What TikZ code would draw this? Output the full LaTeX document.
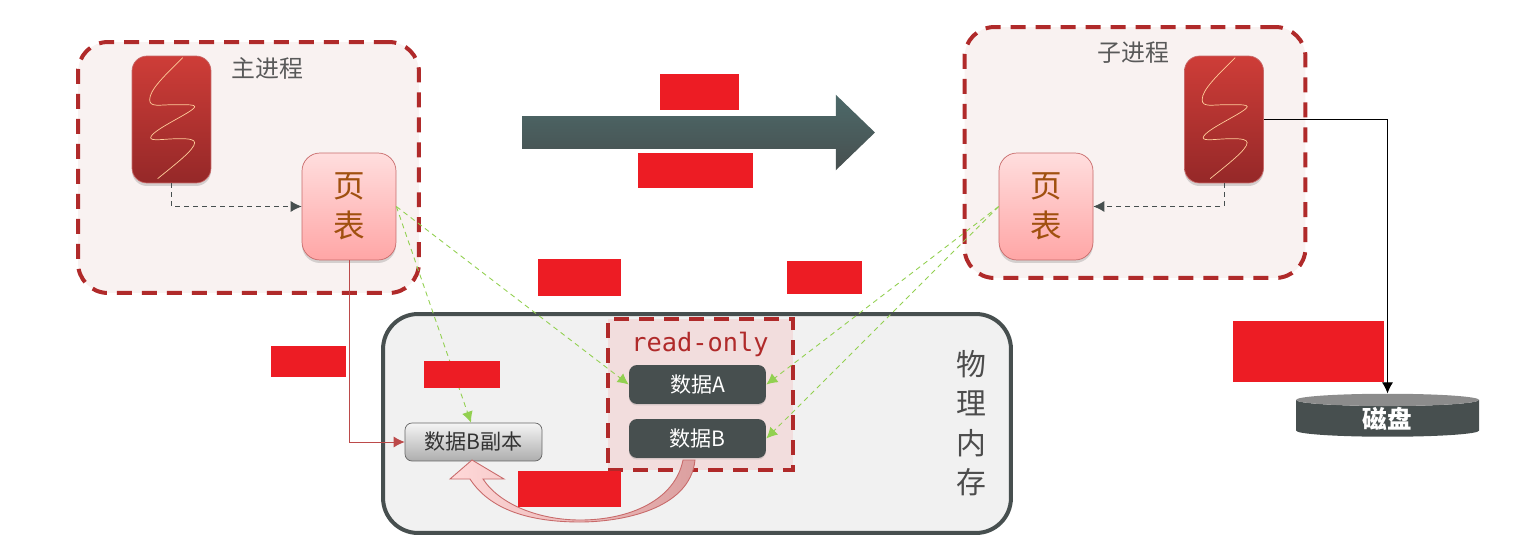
\documentclass[tikz,border=0pt]{standalone}
\usepackage{fontspec}
\setmainfont{Noto Sans CJK SC}
\newfontfamily\rofont{DejaVu Sans Mono}
\usetikzlibrary{shapes.geometric,shapes.arrows,arrows.meta,shadows}
\definecolor{brick}{HTML}{B02A2A}
\definecolor{slate}{HTML}{474F4F}
\definecolor{leaf}{HTML}{92D050}
\definecolor{maskred}{HTML}{ED1C24}
\definecolor{procfill}{HTML}{F9F2F1}
\definecolor{threadtop}{HTML}{CE3D38}
\definecolor{threadlow}{HTML}{952828}
\definecolor{tabletext}{HTML}{A0500F}
\tikzset
{
    procbox/.style = {rectangle, draw=brick, fill=procfill, line width=0.08cm, rounded corners=0.6cm, dash pattern=on 0.3cm off 0.2cm, minimum width=6.82cm, minimum height=5.02cm},
    thread/.style = {rectangle, rounded corners=0.3cm, draw=brick!70!white, top color=threadtop, bottom color=threadlow, minimum width=1.58cm, minimum height=2.54cm, drop shadow={shadow xshift=0cm, shadow yshift=-0.06cm, opacity=0.3}},
    pagetable/.style = {rectangle, rounded corners=0.36cm, draw=brick!70!white, top color=red!13!white, bottom color=red!35!white, minimum width=1.88cm, minimum height=2.14cm, align=center, text=tabletext, font=\fontsize{18}{23}\selectfont, inner sep=0pt, drop shadow={shadow xshift=0cm, shadow yshift=-0.06cm, opacity=0.3}},
    datanode/.style = {rectangle, rounded corners=0.16cm, fill=slate, text=white, minimum width=2.74cm, minimum height=0.78cm, inner sep=0pt, font=\fontsize{12}{14}\selectfont, drop shadow={shadow xshift=0cm, shadow yshift=-0.03cm, opacity=0.25}},
    copynode/.style = {rectangle, rounded corners=0.14cm, draw=black!60!white, top color=black!4!white, bottom color=black!32!white, minimum width=2.74cm, minimum height=0.76cm, inner sep=0pt, font=\fontsize{12}{14}\selectfont, text=black!80!white},
    label/.style = {text=black!65!white, font=\fontsize{13.6}{16}\selectfont, inner sep=0pt},
    mask/.style = {rectangle, fill=maskred, inner sep=0pt, outer sep=0pt},
    wave/.style = {draw=orange!40!white, line width=0.4pt},
    linktip/.style = {-{Latex[length=0.22cm,width=0.22cm]}},
    maplink/.style = {draw=leaf, linktip, line width=0.5pt, dash pattern=on 0.1cm off 0.08cm},
    ptrlink/.style = {draw=slate, linktip, line width=0.5pt, dash pattern=on 0.1cm off 0.08cm}
}
% one wiggle, placed from the corner of a thread
\newcommand{\threadwave}[1]{
  \draw[wave, shift={(#1)}] (51,2) .. controls (33,20) and (18,34) .. (18,44)
    .. controls (18,52) and (28,49) .. (43,49) .. controls (58,49) and (63,49) .. (63,51)
    .. controls (63,56) and (20,74) .. (19,82) .. controls (19,86) and (33,83) .. (48,83)
    .. controls (58,83) and (63,84) .. (63,87) .. controls (63,94) and (43,109) .. (26,123);
}

\begin{document}
\begin{tikzpicture}[x=0.02cm, y=-0.02cm]
\useasboundingbox (0,0) rectangle (1514,547);

% the two processes
\node[procbox] (mainproc) at (248.5,167.5) {};
\node[procbox] (childproc) at (1135,152.5) {};
\node[label, anchor=west] (mainlabel) at (231,68) {主进程};
\node[label, anchor=west] (childlabel) at (1097,53) {子进程};
\node[thread] (mainthread) at (171.5,119.5) {};
\node[thread] (childthread) at (1224,119.5) {};
\threadwave{mainthread.north west}
\threadwave{childthread.north west}
\node[pagetable] (maintable) at (349,206.5) {页\\表};
\node[pagetable] (childtable) at (1046,206.5) {页\\表};

% arrow between them
\node[single arrow, single arrow head extend=0.43cm, single arrow tip angle=88, minimum height=7.06cm, inner xsep=0pt, inner ysep=0.32cm, top color=slate!80!teal!90!white, bottom color=slate] (forkarrow) at (690,132.5) {};

% physical memory
\node[rectangle, draw=slate, fill=black!5.5!white, line width=0.08cm, rounded corners=0.7cm, minimum width=12.56cm, minimum height=4.38cm] (memory) at (697,423.5) {};
\node[align=center, text=black!70!white, inner sep=0pt, font=\fontsize{17}{22.5}\selectfont] (memlabel) at (971,423) {物\\理\\内\\存};
\node[rectangle, draw=brick, fill=brick!16!white, line width=0.08cm, dash pattern=on 0.3cm off 0.2cm, minimum width=3.7cm, minimum height=3.02cm] (readonly) at (700.5,394.5) {};
\node[text=brick, inner sep=0pt, font=\rofont\fontsize{14.4}{16}\selectfont] (rolabel) at (700,344) {read-only};
\node[datanode] (dataA) at (697.5,384.5) {数据A};
\node[datanode] (dataB) at (697.5,438.5) {数据B};
\node[copynode] (dataC) at (473.5,442) {数据B副本};

% copy arrow
\draw[draw=brick!70!white, line width=0.5pt, left color=red!15!white, right color=brick!45!white]
  (683,460) -- (695,460) .. controls (690,510) and (620,522) .. (580,522)
  .. controls (530,522) and (490,510) .. (470,479) -- (450,479) -- (472,460) -- (504,479) -- (483,479)
  .. controls (500,505) and (540,520) .. (580,520) .. controls (630,520) and (675,500) .. (683,460) -- cycle;

% disk
\node[cylinder, shape border rotate=90, aspect=0.25, cylinder uses custom fill, cylinder end fill=black!45!white, cylinder body fill=slate, minimum width=3.66cm, minimum height=0.86cm, inner sep=0pt, text=white, font=\bfseries\fontsize{14}{16}\selectfont] (disk) at (1387.5,418.5) {磁盘};

% links
\draw[ptrlink] (mainthread.south) |- (maintable.west);
\draw[ptrlink] (childthread.south) |- (childtable.east);
\draw[maplink] (maintable.east) -- ([xshift=-0.05cm]dataC.north);
\draw[maplink] (maintable.east) -- (dataA.west);
\draw[maplink] (childtable.west) -- (dataA.east);
\draw[maplink] (childtable.west) -- (dataB.east);
\draw[draw=brick!85!white, linktip, line width=0.5pt] (maintable.south) |- (dataC.west);
\draw[draw=black, linktip, line width=0.5pt] (childthread.east) -| (disk.north);

% covered labels
\node[mask, minimum width=1.58cm, minimum height=0.72cm] (maskA) at (699.5,92) {};
\node[mask, minimum width=2.30cm, minimum height=0.70cm] (maskB) at (695.5,170.5) {};
\node[mask, minimum width=1.66cm, minimum height=0.74cm] (maskC) at (579.5,277.5) {};
\node[mask, minimum width=1.50cm, minimum height=0.66cm] (maskD) at (824.5,277.5) {};
\node[mask, minimum width=1.50cm, minimum height=0.62cm] (maskE) at (308.5,361.5) {};
\node[mask, minimum width=1.52cm, minimum height=0.54cm] (maskF) at (462,374.5) {};
\node[mask, minimum width=2.06cm, minimum height=0.72cm] (maskG) at (569.5,489) {};
\node[mask, minimum width=3.02cm, minimum height=1.22cm] (maskH) at (1308.5,351.5) {};
\end{tikzpicture}
\end{document}
